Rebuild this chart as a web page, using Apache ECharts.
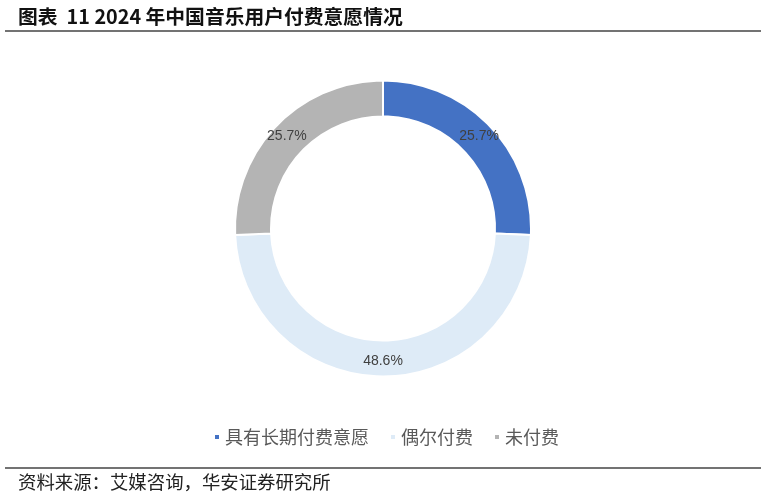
<!DOCTYPE html>
<html>
<head>
<meta charset="utf-8">
<script src="https://cdn.jsdelivr.net/npm/echarts@6/dist/echarts.min.js"></script>
<style>
  html, body { margin: 0; padding: 0; background: #fff; }
  #chart { width: 767px; height: 500px; }
</style>
</head>
<body>
<div id="chart"></div>
<script>
// 数据
var categories = ['具有长期付费意愿', '偶尔付费', '未付费']
var values = [25.7, 48.6, 25.7]
var colors = ['#4472C4', '#DEEBF7', '#B4B4B4']

var cjk = '"Noto Sans CJK SC", "Noto Sans", sans-serif'

var chart = echarts.init(document.getElementById('chart'))

var option = {
  backgroundColor: '#fff',
  animation: false,
  title: {
    text: '图表  11 2024 年中国音乐用户付费意愿情况',
    left: 13,
    top: 2,
    textStyle: { fontFamily: cjk, fontSize: 19.8, fontWeight: 'bold', color: '#111' }
  },
  legend: {
    bottom: 49,
    left: 208,
    icon: 'rect',
    itemWidth: 6,
    itemHeight: 6,
    itemGap: 20,
    textStyle: { fontFamily: cjk, fontSize: 18, color: '#595959' },
    data: categories
  },
  graphic: [
    { type: 'line', shape: { x1: 5, y1: 31, x2: 761, y2: 31 }, style: { stroke: '#444', lineWidth: 1.5 } },
    { type: 'line', shape: { x1: 5, y1: 468, x2: 761, y2: 468 }, style: { stroke: '#444', lineWidth: 1.5 } },
    {
      type: 'text', left: 18, top: 473,
      style: { text: '资料来源：艾媒咨询，华安证券研究所', font: '18.4px ' + cjk, fill: '#222' }
    }
  ],
  series: [{
    type: 'pie',
    center: [383, 228.5],
    radius: [112, 148],
    startAngle: 90,
    clockwise: true,
    itemStyle: { borderColor: '#fff', borderWidth: 2 },
    label: {
      show: true,
      position: 'inside',
      formatter: function (p) { return p.value.toFixed(1) + '%' },
      fontFamily: 'Arial, "Liberation Sans", sans-serif',
      fontSize: 14,
      color: '#404040'
    },
    labelLine: { show: false },
    emphasis: { disabled: true },
    data: categories.map(function (c, i) {
      return { name: c, value: values[i], itemStyle: { color: colors[i] } }
    })
  }]
}

chart.setOption(option)

window.addEventListener('resize', function () {
  chart.resize()
})
</script>
</body>
</html>
